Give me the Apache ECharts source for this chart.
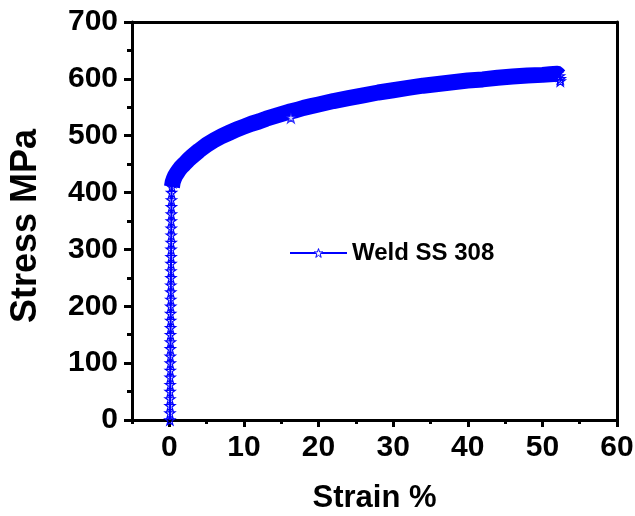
<!DOCTYPE html>
<html>
<head>
<meta charset="utf-8">
<script src="https://cdn.jsdelivr.net/npm/echarts@6/dist/echarts.min.js"></script>
<style>
html,body{margin:0;padding:0;background:#fff;}
#chart{width:635px;height:516px;}
</style>
</head>
<body>
<div id="chart"></div>
<script>
// ---- data ----
const seriesName = 'Weld SS 308';
const strain = [
  0.08,0.09,0.10,0.10,0.11,0.12,0.12,0.13,0.14,0.14,0.15,0.16,0.16,0.17,0.18,0.18,0.19,
  0.20,0.20,0.21,0.22,0.22,0.23,0.24,0.24,0.25,0.26,0.26,0.27,0.28,0.28,0.29,0.30,
  0.35,0.45,0.6,0.8,1.0,1.3,1.6,2.0,2.5,3,4,5,6,7,8,9,10,11,12,13,14,15,16,17,18,19,20,
  22,24,26,28,30,32,34,36,38,40,42,44,46,48,50,51,52,52.3,52.4,52.4
];
const stress = [
  0,12,25,37,50,62,75,87,100,112,125,137,150,162,175,187,200,
  212,225,237,250,262,275,287,300,312,325,337,350,362,375,387,400,
  410,418,424,430,434,440,445,450,457,463,474,484,492,499,505,511,516,521,525,530,534,538,542,545,549,552,555,
  561,566,571,576,580,584,588,591,594,597,599,602,604,606,607,608,609,605,600,596
];
const outlierStrain = [16.3];
const outlierStress = [532];
const kneeIndex = 33;        // first point of the plastic (dense) part
const xMajorTicks = [0,10,20,30,40,50,60];
const xMinorTicks = [-5,5,15,25,35,45,55];
const yMajorTicks = [0,100,200,300,400,500,600,700];
const yMinorTicks = [50,150,250,350,450,550,650];

// ---- build ----
const mainData = strain.map((x,i)=>[x,stress[i]]);
const bandData = mainData.slice(kneeIndex, mainData.length - 2);
const outlierData = outlierStrain.map((x,i)=>[x,outlierStress[i]]);
const BLUE = '#0000ff';
const FONT = 'Liberation Sans';
const STAR = 'path://M50,2 L61,36 L97,36 L68,57 L79,92 L50,71 L21,92 L32,57 L3,36 L39,36 Z';

const labelStyle = {fontFamily: FONT, fontWeight: 'bold', fontSize: 30, color: '#000'};
const blackLine = {color: '#000', width: 3};

function tickAxis(pos, min, max, interval, values, len) {
  return {
    type: 'value', position: pos, min: min, max: max, interval: interval,
    axisLine: {show: false, onZero: false},
    axisTick: {show: true, inside: false, length: len, customValues: values, lineStyle: blackLine},
    axisLabel: {show: false},
    splitLine: {show: false}
  };
}

const chart = echarts.init(document.getElementById('chart'), null, {renderer: 'canvas'});
chart.setOption({
  animation: false,
  backgroundColor: '#fff',
  grid: {left: 132, right: 18, top: 22, bottom: 96, containLabel: false, outerBoundsMode: 'none'},
  legend: {
    data: [{name: seriesName, itemStyle: {color: '#fff', borderColor: BLUE, borderWidth: 1}}],
    left: 284, top: 236,
    itemWidth: 57, itemHeight: 11, itemGap: 6,
    textStyle: {fontFamily: FONT, fontWeight: 'bold', fontSize: 24, color: '#000'}
  },
  xAxis: [
    {
      type: 'value', position: 'bottom', min: -5, max: 60, interval: 5,
      name: 'Strain %', nameLocation: 'middle', nameGap: 63,
      nameTextStyle: {fontFamily: FONT, fontWeight: 'bold', fontSize: 31, color: '#000'},
      axisLine: {show: true, onZero: false, lineStyle: blackLine},
      axisTick: {show: false},
      axisLabel: {show: true, margin: 13, customValues: xMajorTicks, ...labelStyle},
      splitLine: {show: false}
    },
    tickAxis('bottom', -5, 60, 5, xMajorTicks, 7),
    tickAxis('bottom', -5, 60, 5, xMinorTicks, 4),
    {
      type: 'value', position: 'top', min: -5, max: 60, interval: 5,
      axisLine: {show: true, onZero: false, lineStyle: blackLine},
      axisTick: {show: false}, axisLabel: {show: false}, splitLine: {show: false}
    }
  ],
  yAxis: [
    {
      type: 'value', position: 'left', min: 0, max: 700, interval: 100,
      name: 'Stress MPa', nameLocation: 'middle', nameGap: 88, nameRotate: 90,
      nameTextStyle: {fontFamily: FONT, fontWeight: 'bold', fontSize: 36, color: '#000', padding: [0, 10, 0, 0]},
      axisLine: {show: true, onZero: false, lineStyle: blackLine},
      axisTick: {show: false},
      axisLabel: {show: true, margin: 14, ...labelStyle},
      splitLine: {show: false}
    },
    tickAxis('left', 0, 700, 50, yMajorTicks, 8),
    tickAxis('left', 0, 700, 50, yMinorTicks, 5),
    {
      type: 'value', position: 'right', min: 0, max: 700, interval: 100,
      axisLine: {show: true, onZero: false, lineStyle: blackLine},
      axisTick: {show: false}, axisLabel: {show: false}, splitLine: {show: false}
    }
  ],
  series: [
    {
      name: 'band', type: 'line', data: bandData, xAxisIndex: 0, yAxisIndex: 0,
      symbol: 'none', silent: true, z: 2,
      lineStyle: {color: BLUE, width: 16, cap: 'butt', join: 'round'}
    },
    {
      name: seriesName, type: 'line', data: mainData, xAxisIndex: 0, yAxisIndex: 0,
      symbol: STAR, symbolSize: 10, showAllSymbol: true, z: 3,
      itemStyle: {color: 'rgba(255,255,255,0)', borderColor: BLUE, borderWidth: 1.2},
      lineStyle: {color: BLUE, width: 2}
    },
    {
      name: 'outlier', type: 'scatter', data: outlierData, xAxisIndex: 0, yAxisIndex: 0,
      symbol: STAR, symbolSize: 10, silent: true, z: 3,
      itemStyle: {color: '#fff', borderColor: BLUE, borderWidth: 1.5}
    }
  ]
});
</script>
</body>
</html>
